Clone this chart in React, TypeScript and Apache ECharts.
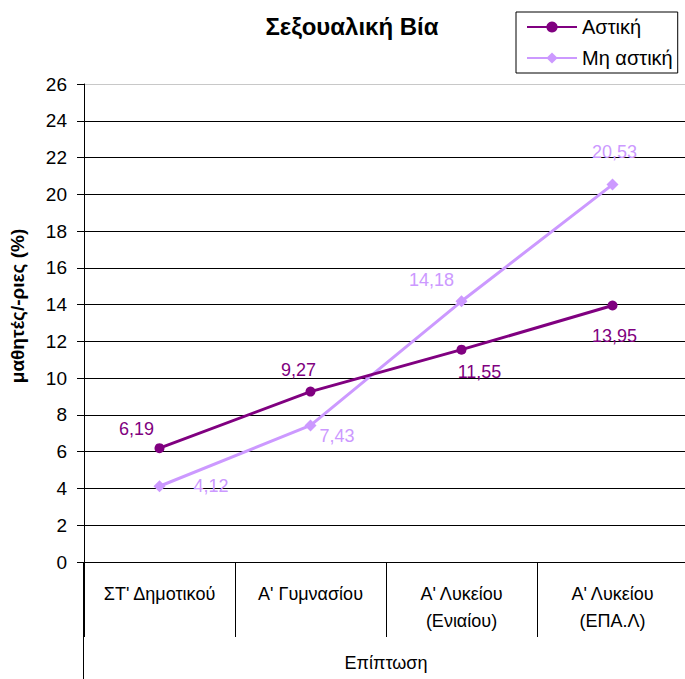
import { useEffect, useRef } from "react";
import * as echarts from "echarts";

const categories = [
  "ΣΤ' Δημοτικού",
  "Α' Γυμνασίου",
  "Α' Λυκείου\n(Ενιαίου)",
  "Α' Λυκείου\n(ΕΠΑ.Λ)",
];
const urbanValues = [6.19, 9.27, 11.55, 13.95];
const nonUrbanValues = [4.12, 7.43, 14.18, 20.53];
const seriesNames = ["Αστική", "Μη αστική"];
const yMin = 0;
const yMax = 26;
const yStep = 2;

// label placement (style only)
const urbanLabelPos = [
  { position: "top", offset: [-23, 0] },
  { position: "top", offset: [-12, -3] },
  { position: "bottom", offset: [18, 3] },
  { position: "bottom", offset: [2, 11] },
];
const nonUrbanLabelPos = [
  { position: "right", offset: [23, 0] },
  { position: "right", offset: [-2, 11] },
  { position: "top", offset: [-30, -1] },
  { position: "top", offset: [2, -13] },
];

const fmt = (v: number) => v.toFixed(2).replace(".", ",");
const FONT = "'Liberation Sans', Arial, sans-serif";

export default function App() {
  const ref = useRef<HTMLDivElement>(null);
  useEffect(() => {
    if (!ref.current) return;
    const chart = echarts.init(ref.current, null, { renderer: "svg" });
    const nLines = (yMax - yMin) / yStep + 1;
    const splitColors = Array.from({ length: nLines }, (_, i) =>
      i === nLines - 1 ? "#c8c8c8" : "#000"
    );
    chart.setOption({
      animation: false,
      backgroundColor: "#fff",
      textStyle: { fontFamily: FONT },
      title: {
        text: "Σεξουαλική Βία",
        left: 347,
        textAlign: "center",
        top: 9,
        textStyle: { fontSize: 24, fontWeight: "bold", color: "#000", fontFamily: FONT },
      },
      legend: {
        orient: "vertical",
        left: 516,
        top: 12,
        padding: [5, 5, 5, 10],
        itemGap: 11,
        itemWidth: 50,
        itemHeight: 14,
        borderColor: "#000",
        borderWidth: 1,
        backgroundColor: "#fff",
        textStyle: { fontSize: 20, color: "#000", fontFamily: FONT },
        data: seriesNames,
      },
      grid: { left: 83, right: 0, top: 84, bottom: 117, containLabel: false },
      xAxis: {
        type: "category",
        data: categories,
        boundaryGap: true,
        name: "Επίπτωση",
        nameLocation: "middle",
        nameGap: 92,
        nameTextStyle: { fontSize: 18, color: "#000", fontFamily: FONT },
        axisLine: { show: true, lineStyle: { color: "#000", width: 1 } },
        axisTick: { show: true, interval: 0, length: 75, lineStyle: { color: "#000" } },
        axisLabel: {
          interval: 0,
          margin: 18,
          fontSize: 18,
          lineHeight: 27,
          color: "#000",
          fontFamily: FONT,
        },
        splitLine: { show: false },
      },
      yAxis: {
        type: "value",
        min: yMin,
        max: yMax,
        interval: yStep,
        name: "μαθητές/-ριες (%)",
        nameLocation: "middle",
        nameGap: 57,
        nameRotate: 90,
        nameTextStyle: {
          fontSize: 19,
          fontWeight: "bold",
          color: "#000",
          fontFamily: FONT,
          padding: [0, 0, 0, 34],
        },
        axisLine: { show: true, lineStyle: { color: "#000", width: 1 } },
        axisTick: { show: true, length: 7, lineStyle: { color: "#000" } },
        axisLabel: { fontSize: 19, color: "#000", margin: 17, fontFamily: FONT },
        splitLine: { show: true, lineStyle: { color: splitColors, width: 1 } },
      },
      series: [
        {
          name: seriesNames[0],
          type: "line",
          data: urbanValues.map((v, i) => ({ value: v, label: urbanLabelPos[i] })),
          symbol: "circle",
          symbolSize: 10,
          lineStyle: { color: "#800080", width: 3 },
          itemStyle: { color: "#800080" },
          label: {
            show: true,
            formatter: (p: any) => fmt(p.value),
            fontSize: 18,
            color: "#800080",
            fontFamily: FONT,
          },
          z: 3,
        },
        {
          name: seriesNames[1],
          type: "line",
          data: nonUrbanValues.map((v, i) => ({ value: v, label: nonUrbanLabelPos[i] })),
          symbol: "diamond",
          symbolSize: 12,
          lineStyle: { color: "#CC99FF", width: 3 },
          itemStyle: { color: "#CC99FF" },
          label: {
            show: true,
            formatter: (p: any) => fmt(p.value),
            fontSize: 18,
            color: "#CC99FF",
            fontFamily: FONT,
          },
          z: 2,
        },
      ],
      graphic: [
        {
          type: "line",
          shape: { x1: 83.5, y1: 562, x2: 83.5, y2: 679 },
          style: { stroke: "#000", lineWidth: 1 },
        },
      ],
    });
    return () => chart.dispose();
  }, []);
  return (
    <div style={{ position: "absolute", left: 0, top: 0, width: 685, height: 679, overflow: "hidden" }}>
      <div ref={ref} style={{ width: 688, height: 679 }} />
    </div>
  );
}
